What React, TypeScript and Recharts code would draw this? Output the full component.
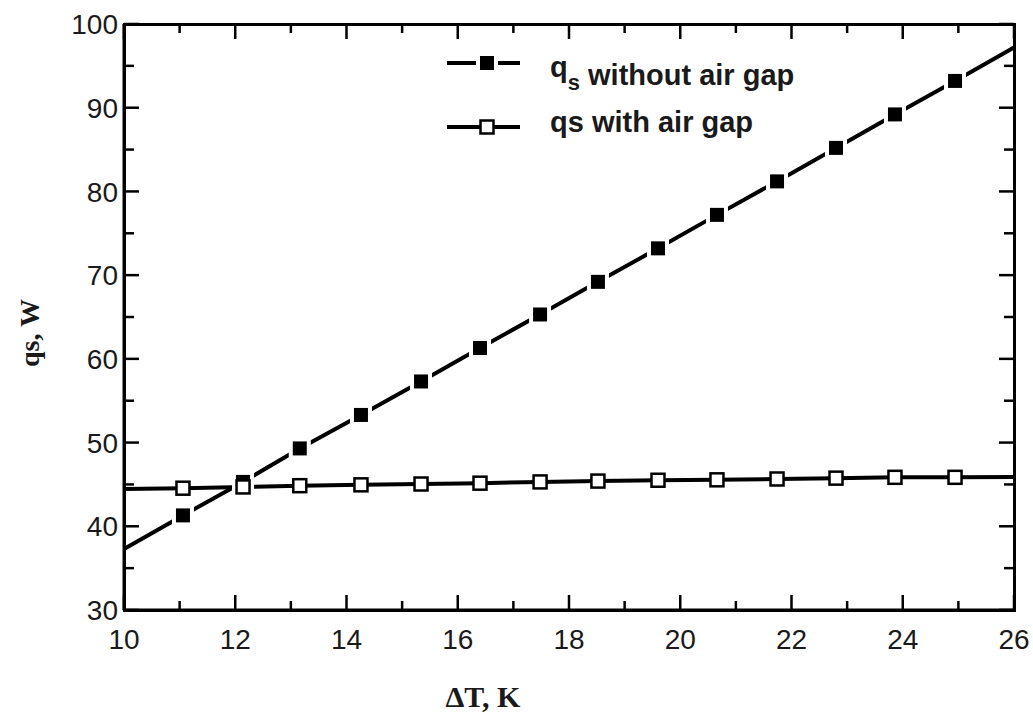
import * as React from "react";
import { LineChart, Line, XAxis, YAxis, Legend } from "recharts";

// ΔT (K) at each measured point; the first and last are the ends of the fitted lines
const deltaT = [
  10, 11.06, 12.14, 13.16, 14.26, 15.34, 16.4, 17.48, 18.52, 19.6, 20.66,
  21.74, 22.8, 23.86, 24.94, 26,
];
const qsWithoutGap = [
  37.3, 41.3, 45.3, 49.3, 53.3, 57.3, 61.3, 65.3, 69.2, 73.2, 77.2, 81.2,
  85.2, 89.2, 93.2, 97.2,
];
const qsWithGap = [
  44.45, 44.55, 44.7, 44.85, 44.95, 45.05, 45.15, 45.3, 45.4, 45.5, 45.55,
  45.65, 45.75, 45.85, 45.85, 45.9,
];
const xTicks = [10, 11, 12, 13, 14, 15, 16, 17, 18, 19, 20, 21, 22, 23, 24, 25, 26];
const yTicks = [30, 35, 40, 45, 50, 55, 60, 65, 70, 75, 80, 85, 90, 95, 100];

const data = deltaT.map((t, i) => ({
  t,
  without: qsWithoutGap[i],
  with: qsWithGap[i],
  edge: i === 0 || i === deltaT.length - 1,
}));

const W = 1033;
const H = 717;
const M = { top: 24, right: 19, bottom: 0, left: 0 };
const Y_AXIS_W = 124;
const X_AXIS_H = 107;
// plot box, used for the mirrored top/right ticks drawn over the chart
const box = {
  left: M.left + Y_AXIS_W,
  right: W - M.right,
  top: M.top,
  bottom: H - M.bottom - X_AXIS_H,
};
const sx = (t: number) => box.left + ((t - 10) / 16) * (box.right - box.left);
const sy = (v: number) => box.bottom - ((v - 30) / 70) * (box.bottom - box.top);

const tickFont = "'Liberation Sans', Arial, sans-serif";
const serif = "'Liberation Serif', 'Times New Roman', serif";

// ticks point into the plot; only the major ones get a label
const BottomTick = (props: any) => {
  const { x, y, payload } = props;
  const major = payload.value % 2 === 0;
  return (
    <g>
      <line x1={x} y1={y} x2={x} y2={y - (major ? 15 : 9)} stroke="#000" strokeWidth={2.5} />
      {major && (
        <text x={x} y={y + 39} textAnchor="middle" fontSize={28} fontFamily={tickFont} fill="#1a1a1a">
          {payload.value}
        </text>
      )}
    </g>
  );
};

const LeftTick = (props: any) => {
  const { x, y, payload } = props;
  const major = payload.value % 10 === 0;
  return (
    <g>
      <line x1={x} y1={y} x2={x + (major ? 15 : 10)} y2={y} stroke="#000" strokeWidth={2.5} />
      {major && (
        <text x={x - 6} y={y} dy="0.36em" textAnchor="end" fontSize={28} fontFamily={tickFont} fill="#1a1a1a">
          {payload.value}
        </text>
      )}
    </g>
  );
};

const FilledDot = (props: any) => {
  const { cx, cy, payload, index } = props;
  if (payload.edge) return <g key={`f-${index}`} />;
  return (
    <g key={`f-${index}`}>
      <rect x={cx - 11} y={cy - 11} width={22} height={22} fill="#fff" />
      <rect x={cx - 7} y={cy - 7} width={14} height={14} fill="#000" />
    </g>
  );
};

const OpenDot = (props: any) => {
  const { cx, cy, payload, index } = props;
  if (payload.edge) return <g key={`o-${index}`} />;
  return (
    <rect key={`o-${index}`} x={cx - 6.5} y={cy - 6.5} width={13} height={13} fill="#fff" stroke="#000" strokeWidth={2.5} />
  );
};

const LegendBox = () => (
  <svg width={400} height={110} style={{ overflow: "visible" }}>
    {/* filled squares */}
    <line x1={7} y1={23} x2={80} y2={23} stroke="#000" strokeWidth={4} />
    <rect x={36} y={12} width={22} height={22} fill="#fff" />
    <rect x={40} y={16} width={14} height={14} fill="#000" />
    <text x={110} y={45} fontSize={29} fontWeight="bold" fontFamily={tickFont} fill="#1a1a1a">
      <tspan dy={-8}>q</tspan>
      <tspan dy={13} fontSize={22}>s</tspan>
      <tspan dy={-5}> without air gap</tspan>
    </text>
    {/* open squares */}
    <line x1={7} y1={87} x2={80} y2={87} stroke="#000" strokeWidth={4} />
    <rect x={40.5} y={80.5} width={13} height={13} fill="#fff" stroke="#000" strokeWidth={2.5} />
    <text x={110} y={92} fontSize={29} fontWeight="bold" fontFamily={tickFont} fill="#1a1a1a">
      qs with air gap
    </text>
  </svg>
);

export default function App() {
  return (
    <div style={{ position: "absolute", left: 0, top: 0, width: W, height: H, background: "#fff" }}>
      <LineChart width={W} height={H} data={data} margin={M}>
        <XAxis
          dataKey="t"
          type="number"
          domain={[10, 26]}
          ticks={xTicks}
          interval={0}
          height={X_AXIS_H}
          tickSize={0}
          tickMargin={0}
          tickLine={false}
          axisLine={{ stroke: "#000", strokeWidth: 3 }}
          tick={<BottomTick />}
        />
        <YAxis
          type="number"
          domain={[30, 100]}
          ticks={yTicks}
          interval={0}
          width={Y_AXIS_W}
          tickSize={0}
          tickMargin={0}
          tickLine={false}
          axisLine={{ stroke: "#000", strokeWidth: 3 }}
          tick={<LeftTick />}
        />
        <Legend
          layout="horizontal"
          verticalAlign="middle"
          align="center"
          wrapperStyle={{ position: "absolute", left: 440, top: 40, width: 400, height: 110 }}
          content={() => <LegendBox />}
        />
        <Line
          type="linear"
          dataKey="without"
          name="qs without air gap"
          stroke="#000"
          strokeWidth={4}
          dot={FilledDot}
          activeDot={false}
          isAnimationActive={false}
        />
        <Line
          type="linear"
          dataKey="with"
          name="qs with air gap"
          stroke="#000"
          strokeWidth={4}
          dot={OpenDot}
          activeDot={false}
          isAnimationActive={false}
        />
      </LineChart>
      {/* box outline */}
      <div
        style={{
          position: "absolute",
          left: box.left - 1.5,
          top: box.top - 1.5,
          width: box.right - box.left + 3,
          height: box.bottom - box.top + 3,
          boxSizing: "border-box",
          border: "3px solid #000",
          pointerEvents: "none",
          zIndex: 5,
        }}
      />
      {/* inward ticks on the top and right sides */}
      <svg
        width={W}
        height={H}
        style={{ position: "absolute", left: 0, top: 0, display: "block", pointerEvents: "none", zIndex: 6 }}
      >
        {xTicks.map((t) => (
          <line
            key={`tt-${t}`}
            x1={sx(t)}
            y1={box.top}
            x2={sx(t)}
            y2={box.top + (t % 2 === 0 ? 15 : 9)}
            stroke="#000"
            strokeWidth={2.5}
          />
        ))}
        {yTicks.map((v) => (
          <line
            key={`rt-${v}`}
            x1={box.right}
            y1={sy(v)}
            x2={box.right - (v % 10 === 0 ? 15 : 10)}
            y2={sy(v)}
            stroke="#000"
            strokeWidth={2.5}
          />
        ))}
      </svg>
      <div
        style={{
          position: "absolute",
          left: 483,
          top: 712,
          transform: "translate(-50%, -100%)",
          fontFamily: serif,
          fontWeight: "bold",
          fontSize: 30,
          lineHeight: 1,
          color: "#1a1a1a",
          whiteSpace: "nowrap",
        }}
      >
        ΔT, K
      </div>
      <div
        style={{
          position: "absolute",
          left: 30,
          top: 333,
          transform: "translate(-50%, -50%) rotate(-90deg)",
          fontFamily: serif,
          fontWeight: "bold",
          fontSize: 28,
          lineHeight: 1,
          color: "#1a1a1a",
          whiteSpace: "nowrap",
        }}
      >
        qs, W
      </div>
    </div>
  );
}
